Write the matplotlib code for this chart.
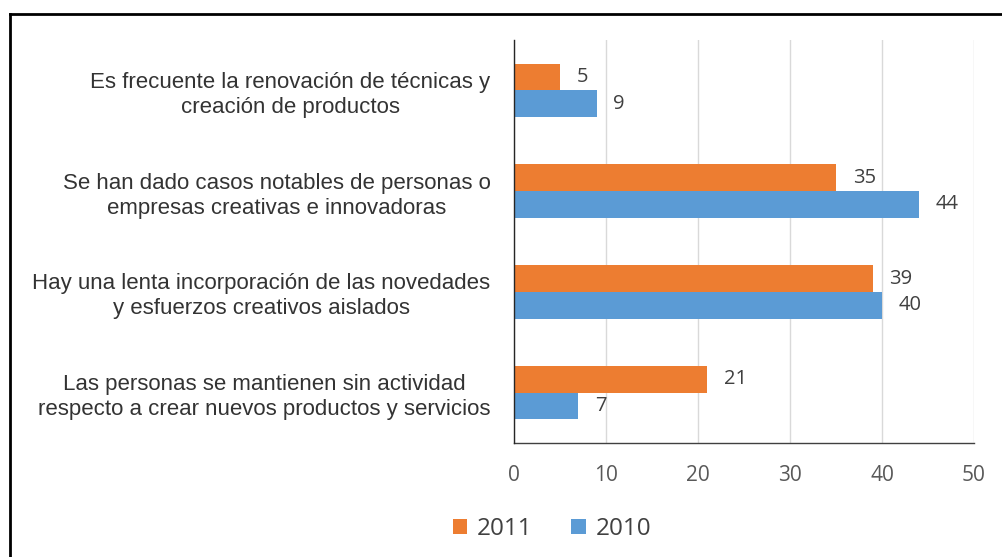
import matplotlib.pyplot as plt
from matplotlib.lines import Line2D
import numpy as np

# Data
categories = [
    "Es frecuente la renovación de técnicas y\ncreación de productos",
    "Se han dado casos notables de personas o\nempresas creativas e innovadoras",
    "Hay una lenta incorporación de las novedades\ny esfuerzos creativos aislados",
    "Las personas se mantienen sin actividad\nrespecto a crear nuevos productos y servicios",
]
values_2011 = [5, 35, 39, 21]
values_2010 = [9, 44, 40, 7]
series_names = ["2011", "2010"]
x_ticks = [0, 10, 20, 30, 40, 50]

orange = "#ED7D31"
blue = "#5B9BD5"
num_font = "Open Sans"
label_font = "Liberation Sans"

fig = plt.figure(figsize=(10.02, 5.57), dpi=100)
ax = fig.add_axes([514 / 1002, 1 - 443 / 557, 460 / 1002, 403 / 557])

y = np.arange(len(categories))
h = 0.265
bars_11 = ax.barh(y - h / 2, values_2011, height=h, color=orange, label=series_names[0], zorder=3)
bars_10 = ax.barh(y + h / 2, values_2010, height=h, color=blue, label=series_names[1], zorder=3)

# data labels
for bars in (bars_11, bars_10):
    for b in bars:
        ax.annotate(f"{int(b.get_width())}", (b.get_width(), b.get_y() + b.get_height() / 2),
                    xytext=(12, 0), textcoords="offset points", ha="left", va="center",
                    fontsize=14.5, color="#404040", family=num_font)

ax.set_ylim(len(categories) - 0.5, -0.5)
ax.set_xlim(0, 50)
ax.set_xticks(x_ticks)
ax.set_xticklabels([str(t) for t in x_ticks], family=num_font, fontsize=15, color="#595959")
ax.set_yticks(y)
ax.set_yticklabels(categories, family=label_font, fontsize=16, color="#333333",
                   multialignment="center", linespacing=1.25)
ax.tick_params(axis="x", length=0, pad=16)
ax.tick_params(axis="y", length=0, pad=17)

ax.grid(axis="x", color="#D9D9D9", linewidth=1, zorder=0)
for s in ("top", "right"):
    ax.spines[s].set_visible(False)
ax.spines["left"].set_color("#262626")
ax.spines["left"].set_linewidth(1)
ax.spines["bottom"].set_color("#404040")
ax.spines["bottom"].set_linewidth(1)
ax.spines["left"].set_zorder(4)

leg = fig.legend(loc="center", bbox_to_anchor=(552 / 1002, 1 - 529 / 557), ncol=2,
                 frameon=False, handlelength=0.6, handleheight=0.6, handletextpad=0.4,
                 columnspacing=1.6, prop={"family": num_font, "size": 17.5})
for t in leg.get_texts():
    t.set_color("#404040")

# outer frame (left and top edges visible in the reference)
fig.add_artist(Line2D([10 / 1002, 10 / 1002], [0, 1 - 14 / 557], color="black", linewidth=2,
                      transform=fig.transFigure))
fig.add_artist(Line2D([10 / 1002, 1], [1 - 14 / 557, 1 - 14 / 557], color="black", linewidth=2,
                      transform=fig.transFigure))

fig.savefig("out.png", dpi=100)
